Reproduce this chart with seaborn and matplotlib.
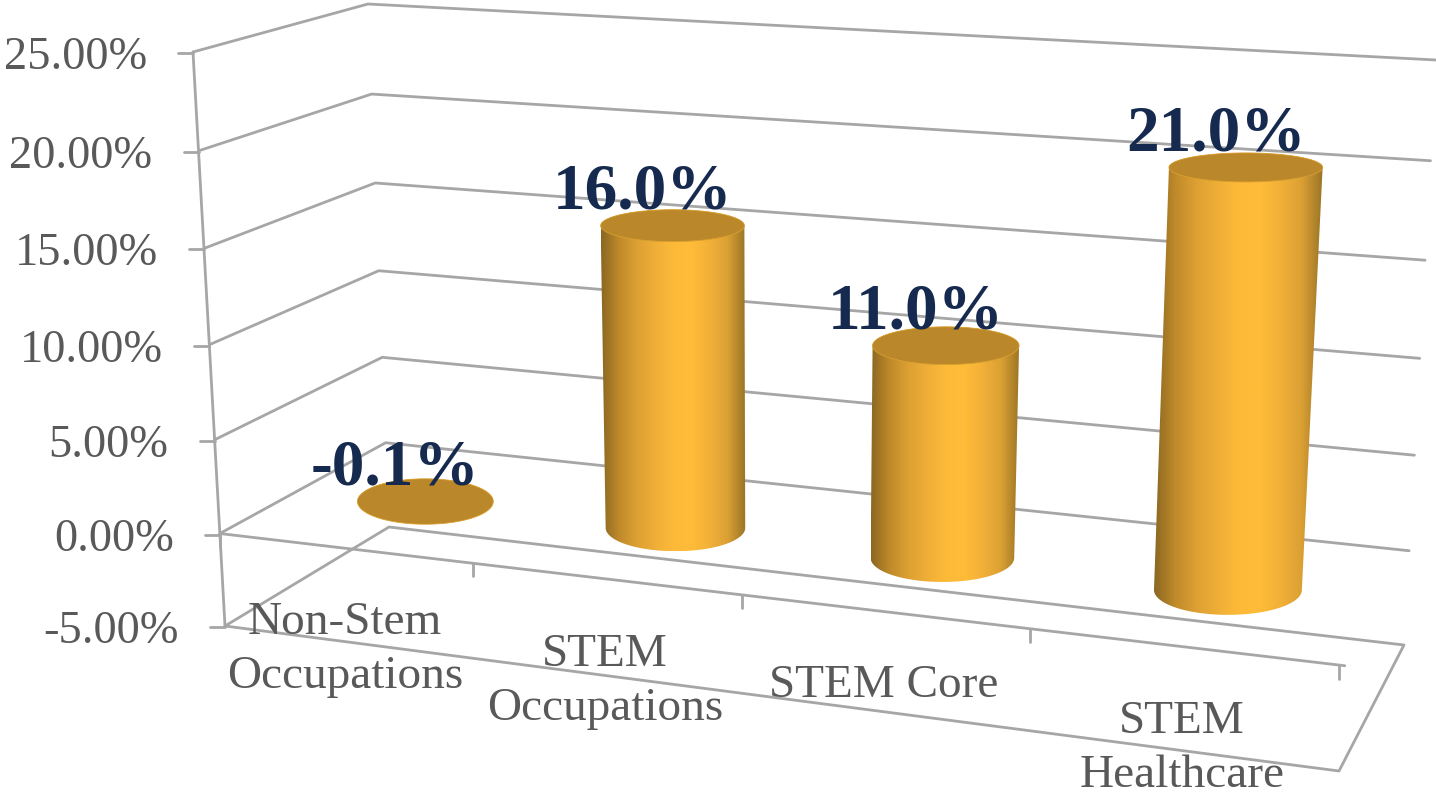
import numpy as np
import pandas as pd
import matplotlib
matplotlib.use("Agg")
import matplotlib.pyplot as plt
from matplotlib.patches import Polygon
import seaborn as sns

# ---- chart values ----
categories = ["Non-Stem\nOccupations", "STEM\nOccupations", "STEM Core", "STEM\nHealthcare"]
growth = [-0.1, 16.0, 11.0, 21.0]
tick_values = [-5, 0, 5, 10, 15, 20, 25]
tick_labels = ["-5.00%", "0.00%", "5.00%", "10.00%", "15.00%", "20.00%", "25.00%"]

# ---- 3D box seen in the picture: corners at value -5 and at value 25 ----
LOW = {"fl": (225, 626), "bl": (389, 527), "br": (1404, 645), "fr": (1339, 771)}
HIGH = {"fl": (193, 52), "bl": (368, 4), "br": (1436, 60), "fr": (1375, 130)}
PERSPECTIVE = 0.876
DEPTH = 0.52
TICK_SHIFT = 6
CAT_LABEL_POS = [(345, 688), (605, 720), (884, 697), (1182, 787)]

GRID = "#a6a6a6"
TICK_TEXT = "#595959"
NAVY = "#16294f"
CAP = "#ba872a"
SERIF = "Liberation Serif"

sns.set_theme(style="white")
plt.rcParams["font.family"] = [SERIF, "DejaVu Serif"]


def along(u):
    """Foreshortening along the category direction."""
    return PERSPECTIVE * u / (PERSPECTIVE * u + 1 - u)


def project(a, w, v, floor_high=False):
    """Screen position of a point (a: 0-1 along, w: 0-1 to the back) at value v."""
    s = (v + 5) / 30
    t = 0.96 * s + 0.04 * s ** 2
    c = {k: np.array(LOW[k]) * (1 - t) + np.array(HIGH[k]) * t for k in LOW}
    front = c["fl"] * (1 - a) + c["fr"] * a
    back = c["bl"] * (1 - a) + c["br"] * a
    return front * (1 - w) + back * w


def ry_at(y):
    return 14.5 + (y - 167) * 0.0245


fig = plt.figure(figsize=(14.36, 7.93), dpi=100)
ax = fig.add_axes([0, 0, 1, 1])

# ---- wireframe through seaborn ----
rows = []
def add(name, pts):
    for i, (x, y) in enumerate(pts):
        rows.append({"id": name, "order": i, "x": x, "y": y})

for v in tick_values:
    pts = [project(0, 0, v), project(0, 1, v), project(1, 1, v)]
    if v == tick_values[0]:
        pts += [project(1, 0, v), project(0, 0, v)]
    add(f"grid{v}", pts)
    p = project(0, 0, v)
    add(f"ytick{v}", [(p[0] - 15, p[1] + 1), (p[0], p[1] + 1)])
add("wall", [project(0, 0, tick_values[0]), project(0, 0, tick_values[-1])])
end = project(1, 0, 0)
add("axis", [project(0, 0, 0), (end[0], end[1] - 2)])
for i in range(len(categories) + 1):
    f = i / len(categories)
    a = along(f)
    p = project(a, 0, 0)
    x = p[0] - TICK_SHIFT * f
    y = p[1] - 2 * f
    add(f"xtick{i}", [(x, y), (x, y + 13)])

frame = pd.DataFrame(rows)
sns.lineplot(data=frame, x="x", y="y", units="id", estimator=None, sort=False,
             color=GRID, lw=2.0, legend=False, ax=ax, zorder=1)

# ---- cylinders ----
shade = sns.blend_palette(["#8a6722", "#c08a2a", "#dda033", "#efae37", "#fdba39",
                           "#ffbc39", "#f2b038", "#dba034", "#9a7426"], as_cmap=True)
gradient = np.linspace(0, 1, 256)[None, :]
theta = np.linspace(0, 2 * np.pi, 181)

for i, val in enumerate(growth):
    a = along((i + 0.5) / len(growth))
    r = 0.0625 + 0.0075 * a
    base = project(a, DEPTH, 0)
    top = project(a, DEPTH, val)
    rx_top = (project(a + r, DEPTH, val)[0] - project(a - r, DEPTH, val)[0]) / 2
    rx_base = (project(a + r, DEPTH, 0)[0] - project(a - r, DEPTH, 0)[0]) / 2
    ry_top, ry_base = ry_at(top[1]), ry_at(base[1])

    arc = np.linspace(np.pi, 0, 91)
    bx = base[0] + rx_base * np.cos(arc)
    by = base[1] + ry_base * np.sin(arc)
    tx = top[0] + rx_top * np.cos(arc[::-1])
    ty = top[1] - ry_top * np.sin(arc[::-1])
    body = np.column_stack([np.r_[bx, tx], np.r_[by, ty]])
    poly = Polygon(body, closed=True, fc="none", ec="none", transform=ax.transData)
    ax.add_patch(poly)
    im = ax.imshow(gradient, cmap=shade, aspect="auto", zorder=3,
                   extent=[body[:, 0].min(), body[:, 0].max(), body[:, 1].max(), body[:, 1].min()])
    im.set_clip_path(poly)
    cap = np.column_stack([top[0] + rx_top * np.cos(theta), top[1] + ry_top * np.sin(theta)])
    ax.add_patch(Polygon(cap, closed=True, fc=CAP, ec="#d9a02f", lw=0.6, zorder=4))

    ax.text(top[0] - 30, top[1] - 17, f"{val:.1f}%", ha="center", va="baseline",
            color=NAVY, fontsize=47, fontweight="bold", family=SERIF, zorder=6)

# ---- text ----
for v, lab in zip(tick_values, tick_labels):
    p = project(0, 0, v)
    ax.text(p[0] - 46, p[1] + 17, lab, ha="right", va="baseline",
            color=TICK_TEXT, fontsize=33.5, family=SERIF, zorder=6)

for (x, y), name in zip(CAT_LABEL_POS, categories):
    lines = name.split("\n")
    for j, line in enumerate(reversed(lines)):
        ax.text(x, y - 54 * j, line, ha="center", va="baseline",
                color=TICK_TEXT, fontsize=34, family=SERIF, zorder=6)

ax.set_xlim(0, 1436)
ax.set_ylim(793, 0)
ax.set_axis_off()
fig.savefig("out.png", dpi=100, facecolor="white")
